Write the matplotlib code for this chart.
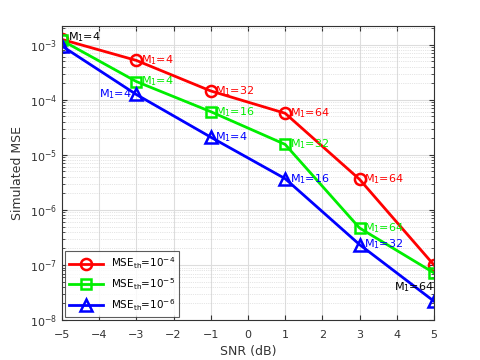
import matplotlib.pyplot as plt
from matplotlib.ticker import LogLocator, NullFormatter

snr = [-5, -3, -1, 1, 3, 5]
mse_4 = [1.25e-3, 5.2e-4, 1.45e-4, 5.7e-5, 3.6e-6, 1.0e-7]
mse_5 = [1.2e-3, 2.15e-4, 6.1e-5, 1.55e-5, 4.7e-7, 7.2e-8]
mse_6 = [9.5e-4, 1.25e-4, 2.1e-5, 3.7e-6, 2.35e-7, 2.2e-8]

labels_4 = ['', '4', '32', '64', '64', '']
labels_5 = ['', '4', '16', '32', '64', '']
labels_6 = ['', '4', '4', '16', '32', '']

fig = plt.figure(figsize=(4.8, 3.6), dpi=100)
ax = fig.add_axes([0.129, 0.111, 0.775, 0.817])

ax.semilogy(snr, mse_4, '-o', color='#ff0000', lw=2, ms=8, mfc='none', mew=1.8,
            label=r'MSE$_{\rm th}$=10$^{-4}$')
ax.semilogy(snr, mse_5, '-s', color='#00ee00', lw=2, ms=7, mfc='none', mew=1.8,
            label=r'MSE$_{\rm th}$=10$^{-5}$')
ax.semilogy(snr, mse_6, '-^', color='#0000ff', lw=2, ms=9, mfc='none', mew=1.8,
            label=r'MSE$_{\rm th}$=10$^{-6}$')

fs = 8
for x, y, t in zip(snr, mse_4, labels_4):
    if t:
        ax.text(x + 0.12, y, r'M$_1$=' + t, color='#ff0000', fontsize=fs, va='center')
for x, y, t in zip(snr, mse_5, labels_5):
    if t:
        ax.text(x + 0.12, y, r'M$_1$=' + t, color='#00ee00', fontsize=fs, va='center')
for x, y, t in zip(snr, mse_6, labels_6):
    if not t:
        continue
    if x == -3:
        ax.text(x - 0.12, y, r'M$_1$=' + t, color='#0000ff', fontsize=fs, va='center', ha='right')
    else:
        ax.text(x + 0.12, y, r'M$_1$=' + t, color='#0000ff', fontsize=fs, va='center')

ax.text(-4.85, 1.35e-3, r'M$_1$=4', color='black', fontsize=fs, va='center')
ax.text(5, 4.0e-8, r'M$_1$=64', color='black', fontsize=fs, va='center', ha='right')

ax.set_xlim(-5, 5)
ax.set_ylim(1e-8, 2.2e-3)
ax.set_xticks(range(-5, 6))
ax.yaxis.set_major_locator(LogLocator(base=10, numticks=10))
ax.yaxis.set_minor_locator(LogLocator(base=10, subs=range(2, 10), numticks=20))
ax.yaxis.set_minor_formatter(NullFormatter())
ax.grid(True, which='major', color='#dddddd', lw=0.8)
ax.grid(True, which='minor', color='#cccccc', lw=0.5, ls=':')
ax.tick_params(which='both', direction='in', top=True, right=True, labelsize=8, colors='#333333')
ax.tick_params(axis='x', pad=7)
for s in ax.spines.values():
    s.set_color('#333333')
    s.set_linewidth(0.8)

ax.set_xlabel('SNR (dB)', fontsize=9, color='#333333')
ax.set_ylabel('Simulated MSE', fontsize=9, color='#333333')

leg = ax.legend(loc='lower left', fontsize=7.5, fancybox=False, edgecolor='#333333',
                handlelength=3.2, borderaxespad=0.3)
leg.get_frame().set_linewidth(0.8)

fig.savefig('out.png', dpi=100)
